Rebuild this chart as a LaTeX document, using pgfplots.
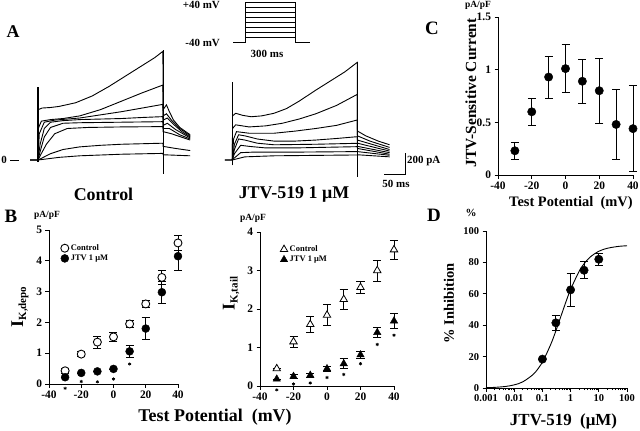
\documentclass[border=0pt]{standalone}
\usepackage{pgfplots}
\pgfplotsset{compat=1.18}
\usepackage{fontspec}
\setmainfont{Liberation Serif}
\newcommand{\fs}[1]{\fontsize{#1}{#1}\selectfont}
\begin{document}
\begin{tikzpicture}[font=\bfseries]
\path[use as bounding box] (0,0) rectangle (640bp,-431bp);
\pgfplotsset{
 trace/.style={scale only axis, axis lines=none, clip=false, anchor=south west, ymin=-200, ymax=1100, height=136.5bp},
 tr/.style={black, line width=0.9bp, mark=none},
 panel/.style={scale only axis, anchor=south west, clip=false, axis x line*=bottom, axis y line*=left,
   tick align=outside, major tick length=3.5bp, minor tick length=2bp,
   every tick/.style={black, line width=0.8bp}, axis line style={line width=0.8bp},
   /pgf/number format/assume math mode=true,
   tick label style={font=\bfseries\fs{11.5}}, ylabel style={anchor=center}, xlabel style={anchor=center}},
 ebar/.style={error bars/.cd, y dir=both, y explicit, error mark options={rotate=90, mark size=4bp, line width=0.8bp, black}, error bar style={line width=0.8bp, black}},
}
% ---------- Panel A: protocol ----------
\begin{axis}[trace, at={(233bp,-42bp)}, xmin=-72, xmax=390, width=77bp, ymin=-40, ymax=40, height=40bp]
\addplot[black, line width=0.8bp] coordinates {(-72,-40)(0,-40)(0,40)(300,40)(300,-40)(390,-40)};
\addplot[black, line width=0.8bp] coordinates {(0,30)(300,30)};
\addplot[black, line width=0.8bp] coordinates {(0,20)(300,20)};
\addplot[black, line width=0.8bp] coordinates {(0,10)(300,10)};
\addplot[black, line width=0.8bp] coordinates {(0,0)(300,0)};
\addplot[black, line width=0.8bp] coordinates {(0,-10)(300,-10)};
\addplot[black, line width=0.8bp] coordinates {(0,-20)(300,-20)};
\addplot[black, line width=0.8bp] coordinates {(0,-30)(300,-30)};
\end{axis}
% ---------- Panel A: control traces ----------
\begin{axis}[trace, at={(29.7bp,-181bp)}, xmin=-20, xmax=370, width=162.6bp]
\addplot[black, line width=0.9bp] coordinates {(-67,0)(-45,0)};
\addplot[tr] coordinates {(-19,0)(0,0)(0.5,480)(10,495)(30,500)(50,510)(90,545)(130,610)(170,700)(210,800)(250,900)(280,975)(299.5,1035)(300,480)(308,525)(315,460)(325,380)(340,310)(365,240)};
\addplot[tr] coordinates {(-19,0)(0,0)(0.5,300)(8,370)(30,385)(60,395)(100,420)(150,480)(200,560)(250,640)(299.5,714)(300,420)(308,440)(320,380)(340,300)(365,230)};
\addplot[tr] coordinates {(-19,0)(0,0)(3,250)(15,360)(40,380)(100,400)(150,430)(200,460)(250,495)(299.5,530)(300,380)(310,400)(325,340)(345,270)(365,220)};
\addplot[tr] coordinates {(-19,0)(0,0)(5,150)(15,300)(30,360)(60,375)(100,385)(150,390)(200,395)(250,405)(299.5,413)(300,330)(310,350)(330,290)(365,210)};
\addplot[tr] coordinates {(0,0)(5,80)(15,220)(30,310)(60,350)(100,355)(200,360)(299.5,365)(300,300)(315,300)(340,240)(365,200)};
\addplot[tr] coordinates {(0,0)(5,40)(20,150)(40,250)(70,300)(120,310)(200,315)(299.5,318)(300,270)(320,250)(365,190)};
\addplot[tr] coordinates {(0,0)(5,10)(30,60)(60,100)(100,125)(150,140)(200,150)(250,155)(299.5,160)(300,130)(330,110)(365,90)};
\addplot[tr] coordinates {(0,0)(50,25)(100,40)(200,55)(299.5,63)(300,50)(365,40)};
\addplot[black, line width=1.1bp] coordinates {(0,-20)(0,695)};
\addplot[black, line width=1.1bp] coordinates {(300,-130)(300,1050)};
\end{axis}
% ---------- Panel A: JTV traces ----------
\begin{axis}[trace, at={(224bp,-181bp)}, xmin=-20, xmax=420, width=183.5bp]
\addplot[tr] coordinates {(-18,0)(0,0)(0.5,420)(8,445)(25,425)(45,412)(70,420)(100,445)(130,490)(160,560)(200,665)(240,765)(270,840)(299.5,930)(300,276)(320,230)(350,180)(377,145)};
\addplot[tr] coordinates {(-18,0)(0,0)(0.5,300)(8,335)(40,315)(80,325)(120,350)(160,390)(200,440)(250,520)(299.5,625)(300,230)(330,180)(377,120)};
\addplot[tr] coordinates {(-18,0)(0,0)(3,200)(10,270)(40,255)(100,255)(150,275)(200,300)(250,330)(299.5,381)(300,190)(377,100)};
\addplot[tr] coordinates {(0,0)(5,150)(15,240)(30,230)(60,200)(100,180)(150,180)(200,190)(250,205)(299.5,222)(300,160)(377,85)};
\addplot[tr] coordinates {(0,0)(5,100)(15,200)(30,190)(60,160)(100,145)(200,150)(299.5,159)(300,130)(377,70)};
\addplot[tr] coordinates {(0,0)(5,60)(20,140)(40,130)(80,115)(150,115)(299.5,127)(300,110)(377,55)};
\addplot[tr] coordinates {(0,0)(5,20)(20,70)(50,75)(150,75)(299.5,80)(300,80)(377,45)};
\addplot[tr] coordinates {(0,0)(30,30)(100,40)(299.5,48)(300,50)(377,30)};
\addplot[black, line width=1.1bp] coordinates {(0,-50)(0,745)};
\addplot[black, line width=1.1bp] coordinates {(300,-160)(300,935)};
\addplot[black, line width=0.9bp] coordinates {(364,-133)(414,-133)(414,67)};
\end{axis}
% ---------- Panel B left ----------
\begin{axis}[panel, at={(49bp,-384bp)}, width=129bp, height=154bp,
  xmin=-40, xmax=40, xtick={-40,-20,0,20,40}, ymin=0, ymax=5, ytick={0,1,2,3,4,5},
  ylabel={{\fs{18}I}{\fs{11}\raisebox{-3bp}{K,depo}}},
  ylabel style={at={(axis description cs:-0.225,0.5)}},
  legend style={draw=none, fill=none, at={(axis description cs:0.09,0.92)}, anchor=north west, font=\bfseries\fs{8.5}, row sep=-1bp, inner sep=0pt},
  legend cell align=left]
\addplot[black, only marks, mark=*, mark size=4bp, mark options={fill=white, line width=0.9bp}, ebar] table[y error index=2] {
-30 0.43 0.08
-20 0.97 0.08
-10 1.36 0.2
0 1.53 0.15
10 1.95 0.1
20 2.6 0.12
30 3.46 0.22
40 4.58 0.25
};
\addplot[black, only marks, mark=*, mark size=4bp, mark options={fill=black}, ebar] table[y error index=2] {
-30 0.22 0
-20 0.36 0
-10 0.41 0
0 0.49 0
10 1.06 0.2
20 1.8 0.35
30 2.98 0.35
40 4.15 0.45
};
\addplot[black, only marks, mark=asterisk, mark size=1.6bp, line width=0.7bp, forget plot] coordinates {(-30,-0.14)(-20,0.08)(-10,0.07)(0,0.16)(10,0.65)};
\legend{Control, JTV 1 μM}
\end{axis}
% ---------- Panel B right ----------
\begin{axis}[panel, at={(260bp,-386bp)}, width=134bp, height=154bp,
  xmin=-40, xmax=40, xtick={-40,-20,0,20,40}, ymin=0, ymax=4, ytick={0,1,2,3,4},
  ylabel={{\fs{18}I}{\fs{11}\raisebox{-3bp}{K,tail}}},
  ylabel style={at={(axis description cs:-0.216,0.6)}},
  legend style={draw=none, fill=none, at={(axis description cs:0.15,0.925)}, anchor=north west, font=\bfseries\fs{8.5}, row sep=-1bp, inner sep=0pt},
  legend cell align=left]
\addplot[black, only marks, mark=triangle*, mark size=4.3bp, mark options={fill=white, line width=0.8bp}, ebar] table[y error index=2] {
-30 0.45 0
-20 1.15 0.15
-10 1.6 0.22
0 1.84 0.27
10 2.25 0.26
20 2.56 0.15
30 3.0 0.27
40 3.54 0.25
};
\addplot[black, only marks, mark=triangle*, mark size=4.3bp, mark options={fill=black}, ebar] table[y error index=2] {
-30 0.18 0
-20 0.25 0.05
-10 0.28 0.05
0 0.45 0.06
10 0.58 0.13
20 0.81 0.1
30 1.39 0.14
40 1.69 0.2
};
\addplot[black, only marks, mark=asterisk, mark size=1.6bp, line width=0.7bp, forget plot] coordinates {(-30,-0.1)(-20,0.05)(-10,0.08)(0,0.22)(10,0.3)(20,0.58)(30,1.08)(40,1.32)};
\legend{Control, JTV 1 μM}
\end{axis}
% ---------- Panel C ----------
\begin{axis}[panel, at={(498bp,-175bp)}, width=135bp, height=158bp,
  xmin=-40, xmax=40, xtick={-40,-20,0,20,40}, ymin=0, ymax=1.5, ytick={0,0.5,1,1.5},
  yticklabels={0,0.5,1,1.5},
  ylabel={\fs{15.5}JTV-Sensitive Current},
  ylabel style={at={(axis description cs:-0.2,0.52)}},
  xlabel={\fs{14.5}Test Potential\ \ (mV)},
  xlabel style={at={(axis description cs:0.54,-0.175)}}]
\addplot[black, only marks, mark=*, mark size=4.2bp, ebar] table[y error index=2] {
-30 0.23 0.08
-20 0.60 0.13
-10 0.93 0.2
0 1.01 0.23
10 0.89 0.21
20 0.80 0.31
30 0.48 0.33
40 0.44 0.41
};
\end{axis}
% ---------- Panel D ----------
\begin{axis}[panel, at={(486bp,-388bp)}, width=141bp, height=157bp,
  xmode=log, xmin=0.001, xmax=100, xtick={0.001,0.01,0.1,1,10,100},
  xticklabels={0.001,0.01,0.1,1,10,100},
  tick label style={font=\bfseries\fs{10.5}},
  ymin=0, ymax=100, ytick={0,20,40,60,80,100},
  ylabel={\fs{14.5}\% Inhibition},
  ylabel style={at={(axis description cs:-0.262,0.54)}},
  xlabel={\fs{17}JTV-519\ \ (μM)},
  xlabel style={at={(axis description cs:0.55,-0.21)}}]
\addplot[black, line width=0.9bp, smooth, mark=none] coordinates {(0.001,0.2)(0.002,0.4)(0.005,1.0)(0.01,2.0)(0.02,3.9)(0.05,9.1)(0.1,16.5)(0.2,28)(0.3,36.4)(0.5,47.9)(0.7,55.4)(1,62.8)(2,74.3)(3,79.1)(5,83.5)(10,87.1)(20,89)(50,90.2)(100,90.6)};
\addplot[black, only marks, mark=*, mark size=4.2bp, ebar] table[y error index=2] {
0.1 18.4 0
0.3 41.5 5
1 62.5 10.5
3 75 5.5
10 82 4
};
\end{axis}
% ---------- Texts ----------
\node[font=\bfseries\fs{18}] at (13bp,-32bp) {A};
\node[font=\bfseries\fs{19}] at (11bp,-216bp) {B};
\node[font=\bfseries\fs{19}] at (432bp,-28bp) {C};
\node[font=\bfseries\fs{19}] at (434bp,-215bp) {D};
\node[font=\bfseries\fs{9.5}] at (47bp,-215bp) {pA/pF};
\node[font=\bfseries\fs{9.5}] at (253bp,-218bp) {pA/pF};
\node[font=\bfseries\fs{9.5}] at (478bp,-5bp) {pA/pF};
\node[font=\bfseries\fs{11}] at (471bp,-213bp) {\%};
\node[font=\bfseries\fs{11}] at (4bp,-160bp) {0};
\node[font=\bfseries\fs{18}] at (103.5bp,-194bp) {Control};
\node[font=\bfseries\fs{18}] at (294bp,-194bp) {JTV-519 1 μM};
\node[font=\bfseries\fs{11}, anchor=west, inner sep=0pt] at (407bp,-161bp) {200 pA};
\node[font=\bfseries\fs{11}] at (396bp,-184bp) {50 ms};
\node[font=\bfseries\fs{11}, anchor=east, inner sep=0pt] at (220bp,-5bp) {+40 mV};
\node[font=\bfseries\fs{11}, anchor=east, inner sep=0pt] at (220bp,-43bp) {-40 mV};
\node[font=\bfseries\fs{11}] at (267bp,-54bp) {300 ms};
\node[font=\bfseries\fs{18}] at (215bp,-417bp) {Test Potential\ \ (mV)};
\end{tikzpicture}
\end{document}
